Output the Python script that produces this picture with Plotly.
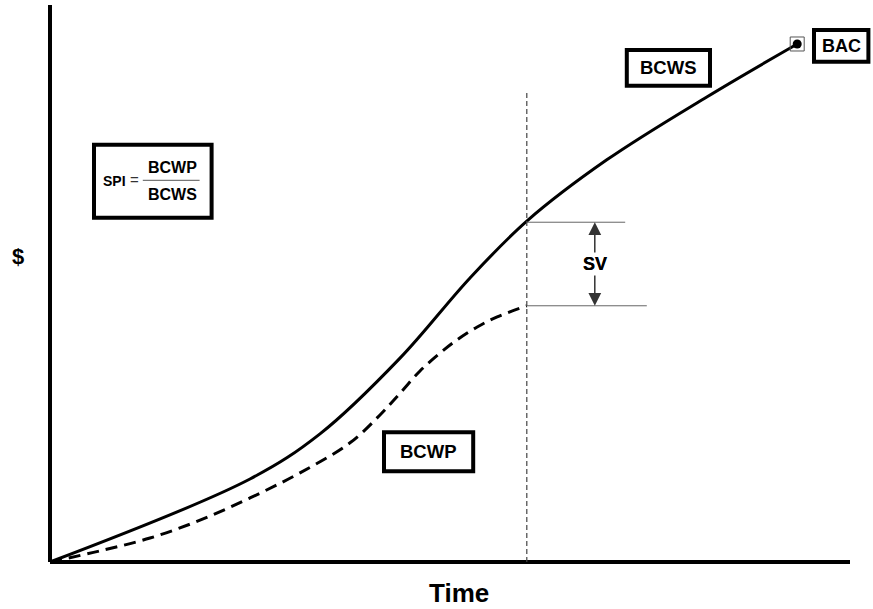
import plotly.graph_objects as go

# ---- data (time units 0..100, $ units 0..100) ----
time_bcws = [0, 25, 33.75, 43.75, 52.5, 59.6, 69.6, 82.1, 93.4]
bcws = [0, 14.9, 23.0, 36.6, 51.0, 61.2, 72.2, 83.5, 93.0]

time_bcwp = [0, 6.25, 12.5, 18.75, 25, 31.25, 37.5, 41.25, 43.75, 46.25, 48.75, 50.9, 53.4, 55.9, 59.6]
bcwp = [0, 2.0, 4.3, 7.5, 11.5, 16.0, 21.4, 26.4, 30.3, 34.3, 37.5, 39.9, 42.2, 44.0, 46.0]

status_time = 59.6          # time-now line
status_top = 84.4           # top of time-now line
sv_top = 61.0               # BCWS at status date
sv_bottom = 46.0            # BCWP at status date
sv_x = 68.1
sv_top_end = 71.9
sv_bottom_end = 74.6
bac_time, bac_value = 93.4, 93.0

FONT = "Liberation Sans"
BLK = "#000000"

fig = go.Figure()

fig.add_trace(go.Scatter(x=time_bcws, y=bcws, mode="lines",
                         line=dict(color=BLK, width=3, shape="spline", smoothing=1.0),
                         hoverinfo="skip", cliponaxis=False))
fig.add_trace(go.Scatter(x=time_bcwp, y=bcwp, mode="lines",
                         line=dict(color=BLK, width=3, dash="12px,7px", shape="spline", smoothing=1.0),
                         hoverinfo="skip", cliponaxis=False))
# BAC marker
fig.add_trace(go.Scatter(x=[bac_time], y=[bac_value], mode="markers",
                         marker=dict(symbol="square-open", size=14, color="#555555", line=dict(width=1)),
                         hoverinfo="skip"))
fig.add_trace(go.Scatter(x=[bac_time], y=[bac_value], mode="markers",
                         marker=dict(symbol="circle", size=9, color=BLK), hoverinfo="skip"))

shapes = []
# axes
shapes.append(dict(type="line", xref="x", yref="y", x0=0, x1=100, y0=0, y1=0, line=dict(color=BLK, width=4)))
shapes.append(dict(type="line", xref="x", yref="y", x0=0, x1=0, y0=0, y1=100, line=dict(color=BLK, width=4)))
# time-now line
shapes.append(dict(type="line", xref="x", yref="y", x0=status_time, x1=status_time, y0=0, y1=status_top,
                   line=dict(color="#444444", width=1.2, dash="5px,3px")))
# SV lines
shapes.append(dict(type="line", xref="x", yref="y", x0=status_time, x1=sv_top_end, y0=sv_top, y1=sv_top,
                   line=dict(color="#666666", width=1)))
shapes.append(dict(type="line", xref="x", yref="y", x0=status_time, x1=sv_bottom_end, y0=sv_bottom, y1=sv_bottom,
                   line=dict(color="#666666", width=1)))

# label boxes (x0, x1, y0, y1 in data units)
boxes = {
    "SPI": (5.5, 20.2, 61.8, 74.9),
    "BCWS": (72.1, 82.5, 85.5, 91.9),
    "BAC": (95.5, 102.3, 89.8, 95.5),
    "BCWP": (41.75, 52.9, 16.3, 23.3),
}
for name, (x0, x1, y0, y1) in boxes.items():
    shapes.append(dict(type="rect", xref="x", yref="y", x0=x0, x1=x1, y0=y0, y1=y1,
                       line=dict(color=BLK, width=4), fillcolor="white", layer="above"))

annotations = []
label_sizes = {"BCWS": 18.5, "BAC": 18, "BCWP": 18.5}
for name in ["BCWS", "BAC", "BCWP"]:
    x0, x1, y0, y1 = boxes[name]
    annotations.append(dict(x=(x0 + x1) / 2, y=(y0 + y1) / 2, xref="x", yref="y", text="<b>" + name + "</b>",
                            showarrow=False, font=dict(family=FONT, size=label_sizes[name], color=BLK),
                            xanchor="center", yanchor="middle"))

# SPI formula
annotations.append(dict(x=8.0, y=68.4, xref="x", yref="y", text="<b>SPI</b>", showarrow=False,
                        font=dict(family=FONT, size=14, color=BLK), xanchor="center", yanchor="middle"))
annotations.append(dict(x=10.55, y=68.6, xref="x", yref="y", text="=", showarrow=False,
                        font=dict(family=FONT, size=15, color="#333333"), xanchor="center", yanchor="middle"))
annotations.append(dict(x=15.25, y=70.9, xref="x", yref="y", text="<b>BCWP</b>", showarrow=False,
                        font=dict(family=FONT, size=16, color=BLK), xanchor="center", yanchor="middle"))
annotations.append(dict(x=15.25, y=66.0, xref="x", yref="y", text="<b>BCWS</b>", showarrow=False,
                        font=dict(family=FONT, size=16, color=BLK), xanchor="center", yanchor="middle"))
shapes.append(dict(type="line", xref="x", yref="y", x0=11.6, x1=18.7, y0=68.5, y1=68.5,
                   line=dict(color="#777777", width=1.2)))

# SV arrows
for tip in (sv_top, sv_bottom):
    annotations.append(dict(x=sv_x, y=tip, ax=sv_x, ay=(sv_top + sv_bottom) / 2, xref="x", yref="y",
                            axref="x", ayref="y", text="<b>SV</b>", showarrow=True, arrowhead=2,
                            arrowsize=1.7, arrowwidth=1.5, arrowcolor="#333333", standoff=0,
                            font=dict(family=FONT, size=18, color=BLK)))

# axis titles (paper coordinates so they sit outside the plot area)
annotations.append(dict(x=-0.0264, y=0.5524, xref="paper", yref="paper", text="<b>$</b>", showarrow=False,
                        font=dict(family=FONT, size=22, color=BLK), xanchor="center", yanchor="middle"))
annotations.append(dict(x=0.503, y=-0.0367, xref="paper", yref="paper", text="<b>Time</b>", showarrow=False,
                        font=dict(family=FONT, size=26, color=BLK), xanchor="center", yanchor="middle"))

fig.update_layout(
    width=873, height=609,
    margin=dict(l=40, r=0, t=0, b=37, pad=0),
    paper_bgcolor="white", plot_bgcolor="white",
    showlegend=False,
    xaxis=dict(range=[-1.25, 102.875], visible=False, fixedrange=True),
    yaxis=dict(range=[-1.795, 100.898], visible=False, fixedrange=True),
    shapes=shapes, annotations=annotations,
)

fig.write_html("out.html", config={"displayModeBar": False},
               post_script="document.body.style.margin='0';")
